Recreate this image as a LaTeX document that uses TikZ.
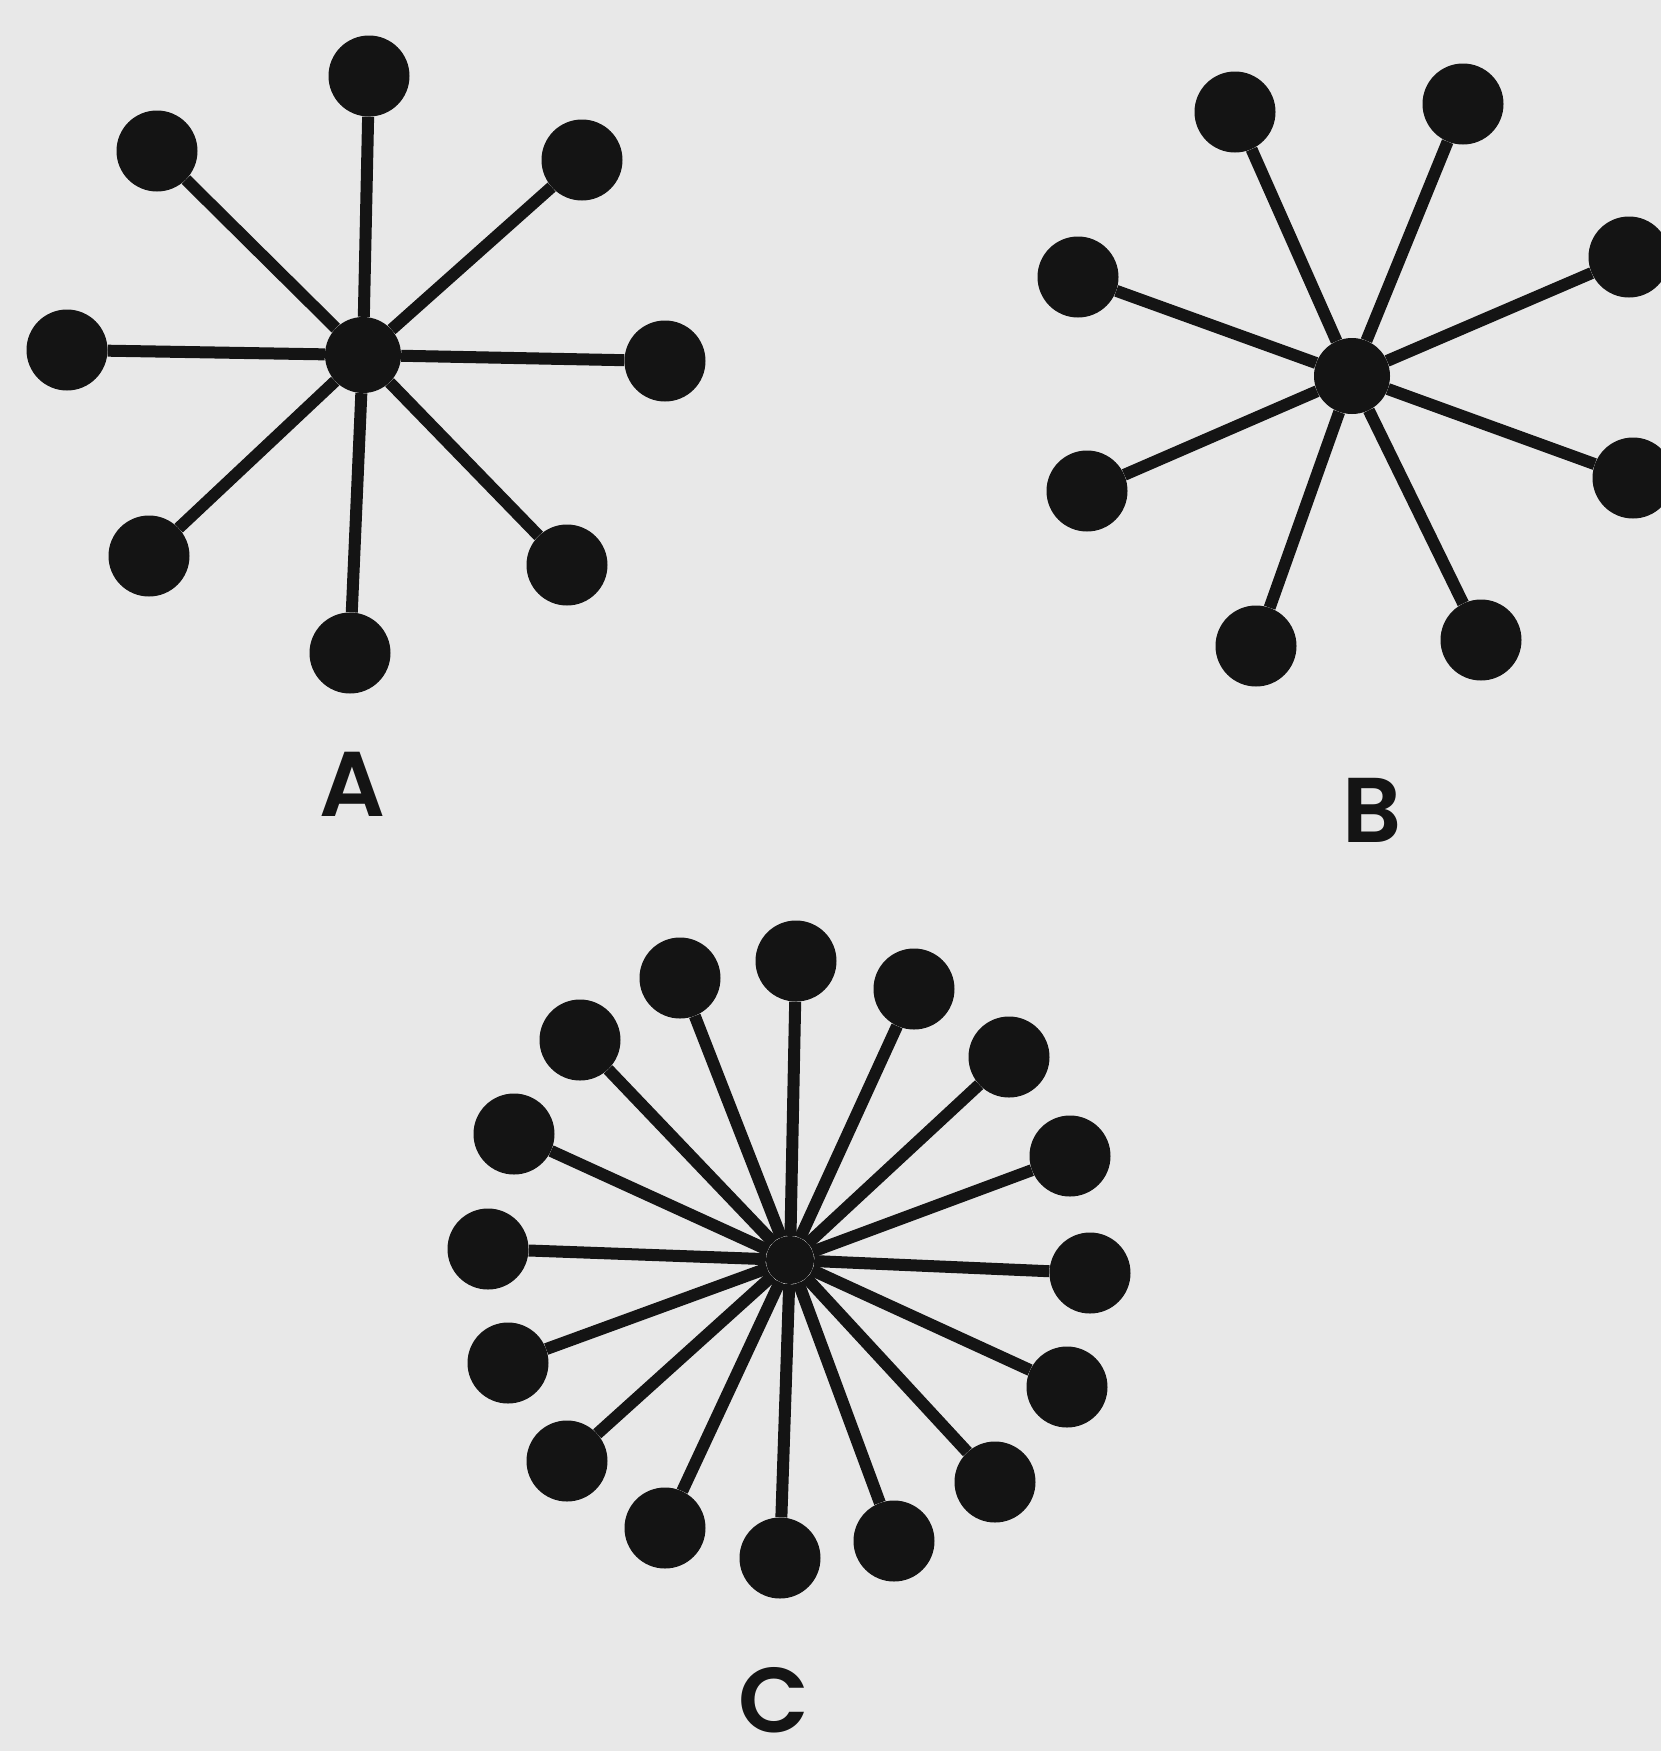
\documentclass[tikz,border=0pt]{standalone}
\usepackage{fontspec}
\newfontfamily\labfont{Poppins}[UprightFont=* SemiBold]
\definecolor{paper}{HTML}{E8E8E8}
\definecolor{ink}{HTML}{141414}
\begin{document}
\begin{tikzpicture}[x=1pt,y=-1pt,
  dot/.style={circle,fill=ink,inner sep=0pt,minimum size=81pt},
  hub/.style={circle,fill=ink,inner sep=0pt,minimum size=76pt},
  smallhub/.style={circle,fill=ink,inner sep=0pt,minimum size=48pt},
  spoke/.style={draw=ink,line width=12pt},
  lab/.style={font=\fontsize{92}{92}\selectfont\labfont,text=ink,inner sep=0pt}]
\fill[paper] (0,0) rectangle (1661,1751);
\useasboundingbox (0,0) rectangle (1661,1751);
% Star A
\node[hub] (A) at (363,355) {};
\foreach \p [count=\i] in {(369,76),(582,160),(665,361),(567,565),(350,653),(149,556),(67,350),(157,151)}{
  \node[dot] (A\i) at \p {};
  \draw[spoke] (A) -- (A\i);
}
\node[lab] (labA) at (352,784) {A};
% Star B
\node[hub] (B) at (1352,376) {};
\foreach \p [count=\i] in {(1235,112),(1463,104),(1629,257),(1633,478),(1481,640),(1256,646),(1087,491),(1078,277)}{
  \node[dot] (B\i) at \p {};
  \draw[spoke] (B) -- (B\i);
}
\node[lab] (labB) at (1372,810) {B};
% Star C
\node[smallhub] (C) at (790,1260) {};
\foreach \p [count=\i] in {(796,961),(914,989),(1009,1057),(1070,1156),(1090,1273),(1067,1387),(995,1482),(894,1541),(780,1558),(665,1528),(567,1461),(508,1363),(488,1249),(514,1134),(580,1040),(680,978)}{
  \node[dot] (C\i) at \p {};
  \draw[spoke] (C) -- (C\i);
}
\node[lab] (labC) at (774,1700) {C};
\end{tikzpicture}
\end{document}
